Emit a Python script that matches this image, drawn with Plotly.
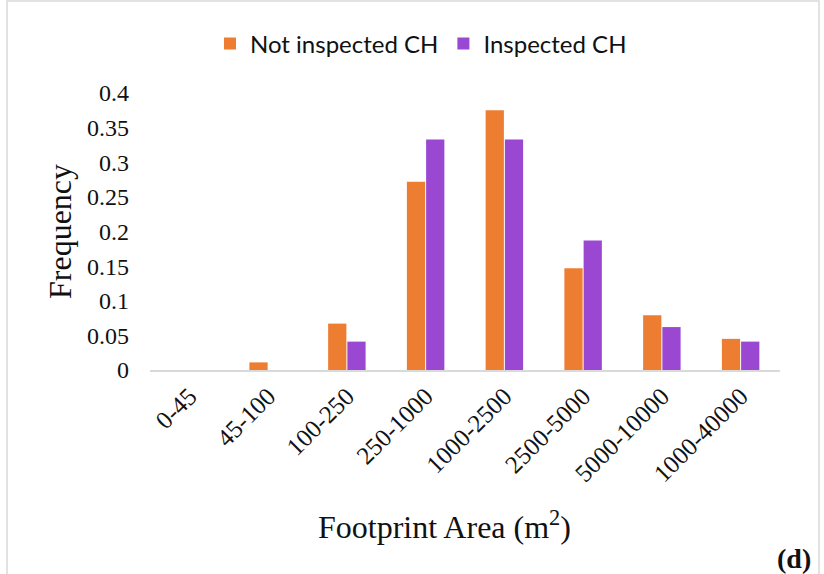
import plotly.graph_objects as go

categories = ["0-45", "45-100", "100-250", "250-1000", "1000-2500", "2500-5000", "5000-10000", "1000-40000"]
not_inspected = [0.0, 0.011, 0.067, 0.272, 0.375, 0.147, 0.079, 0.045]
inspected = [0.0, 0.0, 0.041, 0.333, 0.333, 0.187, 0.062, 0.041]
y_ticks = [0, 0.05, 0.1, 0.15, 0.2, 0.25, 0.3, 0.35, 0.4]
y_tick_text = ["0", "0.05", "0.1", "0.15", "0.2", "0.25", "0.3", "0.35", "0.4"]

fig = go.Figure()
fig.add_trace(go.Bar(x=categories, y=not_inspected, name="Not inspected CH",
                     marker=dict(color="#ED7D31", line=dict(width=0))))
fig.add_trace(go.Bar(x=categories, y=inspected, name="Inspected CH",
                     marker=dict(color="#9A48D2", line=dict(width=0))))

L, R, T, B = 150, 44, 93, 204
W, H = 824, 574
pw, ph = W - L - R, H - T - B

def px(x):
    return (x - L) / pw

def py(y):
    return (H - B - y) / ph

fig.update_layout(
    width=W, height=H,
    margin=dict(l=L, r=R, t=T, b=B),
    paper_bgcolor="white", plot_bgcolor="white",
    barmode="group", bargap=0.512, bargroupgap=0.05,
    showlegend=True,
    legend=dict(orientation="h", x=px(421), y=py(44), xanchor="center", yanchor="middle",
                font=dict(family="Lato, Noto Sans, sans-serif", size=24, color="#111"),
                itemwidth=30, tracegroupgap=0),
    xaxis=dict(tickangle=-45, tickfont=dict(family="Liberation Serif", size=25, color="#111"),
               showline=True, linecolor="#d9d9d9", linewidth=1.5, showgrid=False,
               ticks="", fixedrange=True),
    yaxis=dict(range=[0, 0.4], tickvals=y_ticks, ticktext=y_tick_text,
               tickfont=dict(family="Liberation Serif", size=24, color="#111"),
               showgrid=False, showline=False, zeroline=False, ticks="", ticklabelstandoff=20),
    annotations=[
        dict(text="Frequency", textangle=-90, x=px(60), y=py(232), xref="paper", yref="paper",
             showarrow=False, font=dict(family="Liberation Serif", size=32, color="#111"),
             xanchor="center", yanchor="middle"),
        dict(text="Footprint Area (m<sup>2</sup>)", x=px(444), y=py(525), xref="paper", yref="paper",
             showarrow=False, font=dict(family="Liberation Serif", size=32, color="#111"),
             xanchor="center", yanchor="middle"),
        dict(text="<b>(d)</b>", x=px(813), y=py(558), xref="paper", yref="paper",
             showarrow=False, font=dict(family="Liberation Serif", size=28, color="#111"),
             xanchor="right", yanchor="middle"),
    ],
    shapes=[
        dict(type="rect", xref="paper", yref="paper", x0=px(7), x1=px(819), y0=py(590), y1=py(1),
             line=dict(color="#d9d9d9", width=1.5), fillcolor="rgba(0,0,0,0)", layer="below"),
    ],
)

fig.write_html("out.html", config={"displayModeBar": False},
               post_script="document.body.style.margin='0px';document.body.style.overflow='hidden';")
